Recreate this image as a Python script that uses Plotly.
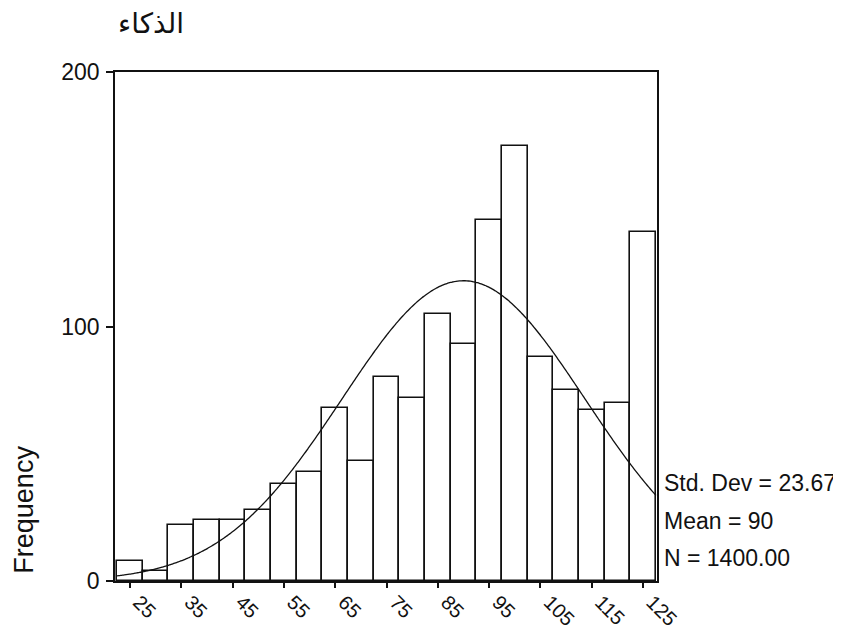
import numpy as np
import plotly.graph_objects as go

# ---- data ----
bin_centers = [25, 30, 35, 40, 45, 50, 55, 60, 65, 70, 75, 80, 85, 90, 95, 100, 105, 110, 115, 120, 125]
frequencies = [8, 4, 22, 24, 24, 28, 38, 43, 68, 47, 80, 72, 105, 93, 142, 171, 88, 75, 67, 70, 137]
x_tick_values = [25, 35, 45, 55, 65, 75, 85, 95, 105, 115, 125]
y_tick_values = [0, 100, 200]
title_text = "الذكاء"
y_title = "Frequency"
STD_DEV = 23.67
MEAN = 90
N = 1400.00
BIN_WIDTH = 5
stats_lines = ["Std. Dev = 23.67", "Mean = 90", "N = 1400.00"]

# fitted normal curve (from the stated mean / std. dev / N)
xc = np.linspace(bin_centers[0] - BIN_WIDTH / 2, bin_centers[-1] + BIN_WIDTH / 2, 300)
yc = N * BIN_WIDTH / (STD_DEV * np.sqrt(2 * np.pi)) * np.exp(-0.5 * ((xc - MEAN) / STD_DEV) ** 2)

FONT = "Liberation Sans, Arial, sans-serif"

fig = go.Figure()
fig.add_trace(go.Bar(
    x=bin_centers, y=frequencies, width=BIN_WIDTH,
    marker=dict(color="white", line=dict(color="#111111", width=1.6)),
    showlegend=False, hoverinfo="x+y",
))
fig.add_trace(go.Scatter(
    x=xc, y=yc, mode="lines", line=dict(color="#111111", width=1.3, shape="spline"),
    showlegend=False, hoverinfo="skip",
))

# page body has an 8px default margin, so the margins compensate for it
fig.update_layout(
    width=841, height=630,
    margin=dict(l=107, r=192, t=64, b=57),
    paper_bgcolor="white", plot_bgcolor="white",
    font=dict(family=FONT, size=22, color="#111111"),
    bargap=0,
)
fig.update_xaxes(
    range=[22.1, 127.7], tickmode="array", tickvals=x_tick_values,
    ticktext=[str(v) for v in x_tick_values],
    tickangle=45, ticks="outside", ticklen=5, tickwidth=1.5, tickcolor="#111111",
    showline=True, linecolor="#111111", linewidth=1.5, mirror=True,
    showgrid=False, zeroline=False, tickfont=dict(size=20),
    automargin=False, ticklabelshift=9, ticklabelstandoff=-5,
)
fig.update_yaxes(
    range=[0, 200], tickmode="array", tickvals=y_tick_values,
    ticks="outside", ticklen=7, tickwidth=1.5, tickcolor="#111111",
    showline=True, linecolor="#111111", linewidth=1.5, mirror=True,
    showgrid=False, zeroline=False, tickfont=dict(size=23),
    automargin=False, ticklabelstandoff=2,
)

annotations = [
    dict(text=title_text, xref="paper", yref="paper", x=0.066, y=1.096,
         xanchor="center", yanchor="middle", showarrow=False,
         font=dict(family="DejaVu Sans, Noto Sans, sans-serif", size=28, color="#111111")),
    dict(text=y_title, xref="paper", yref="paper", x=-0.168, y=0.14,
         xanchor="center", yanchor="middle", textangle=-90, showarrow=False,
         font=dict(size=27)),
]
stat_y = [0.1925, 0.118, 0.045]
for t, yy in zip(stats_lines, stat_y):
    annotations.append(dict(text=t, xref="paper", yref="paper", x=1.009, y=yy,
                            xanchor="left", yanchor="middle", showarrow=False,
                            font=dict(size=23)))
fig.update_layout(annotations=annotations)

fig.write_html("out.html")
